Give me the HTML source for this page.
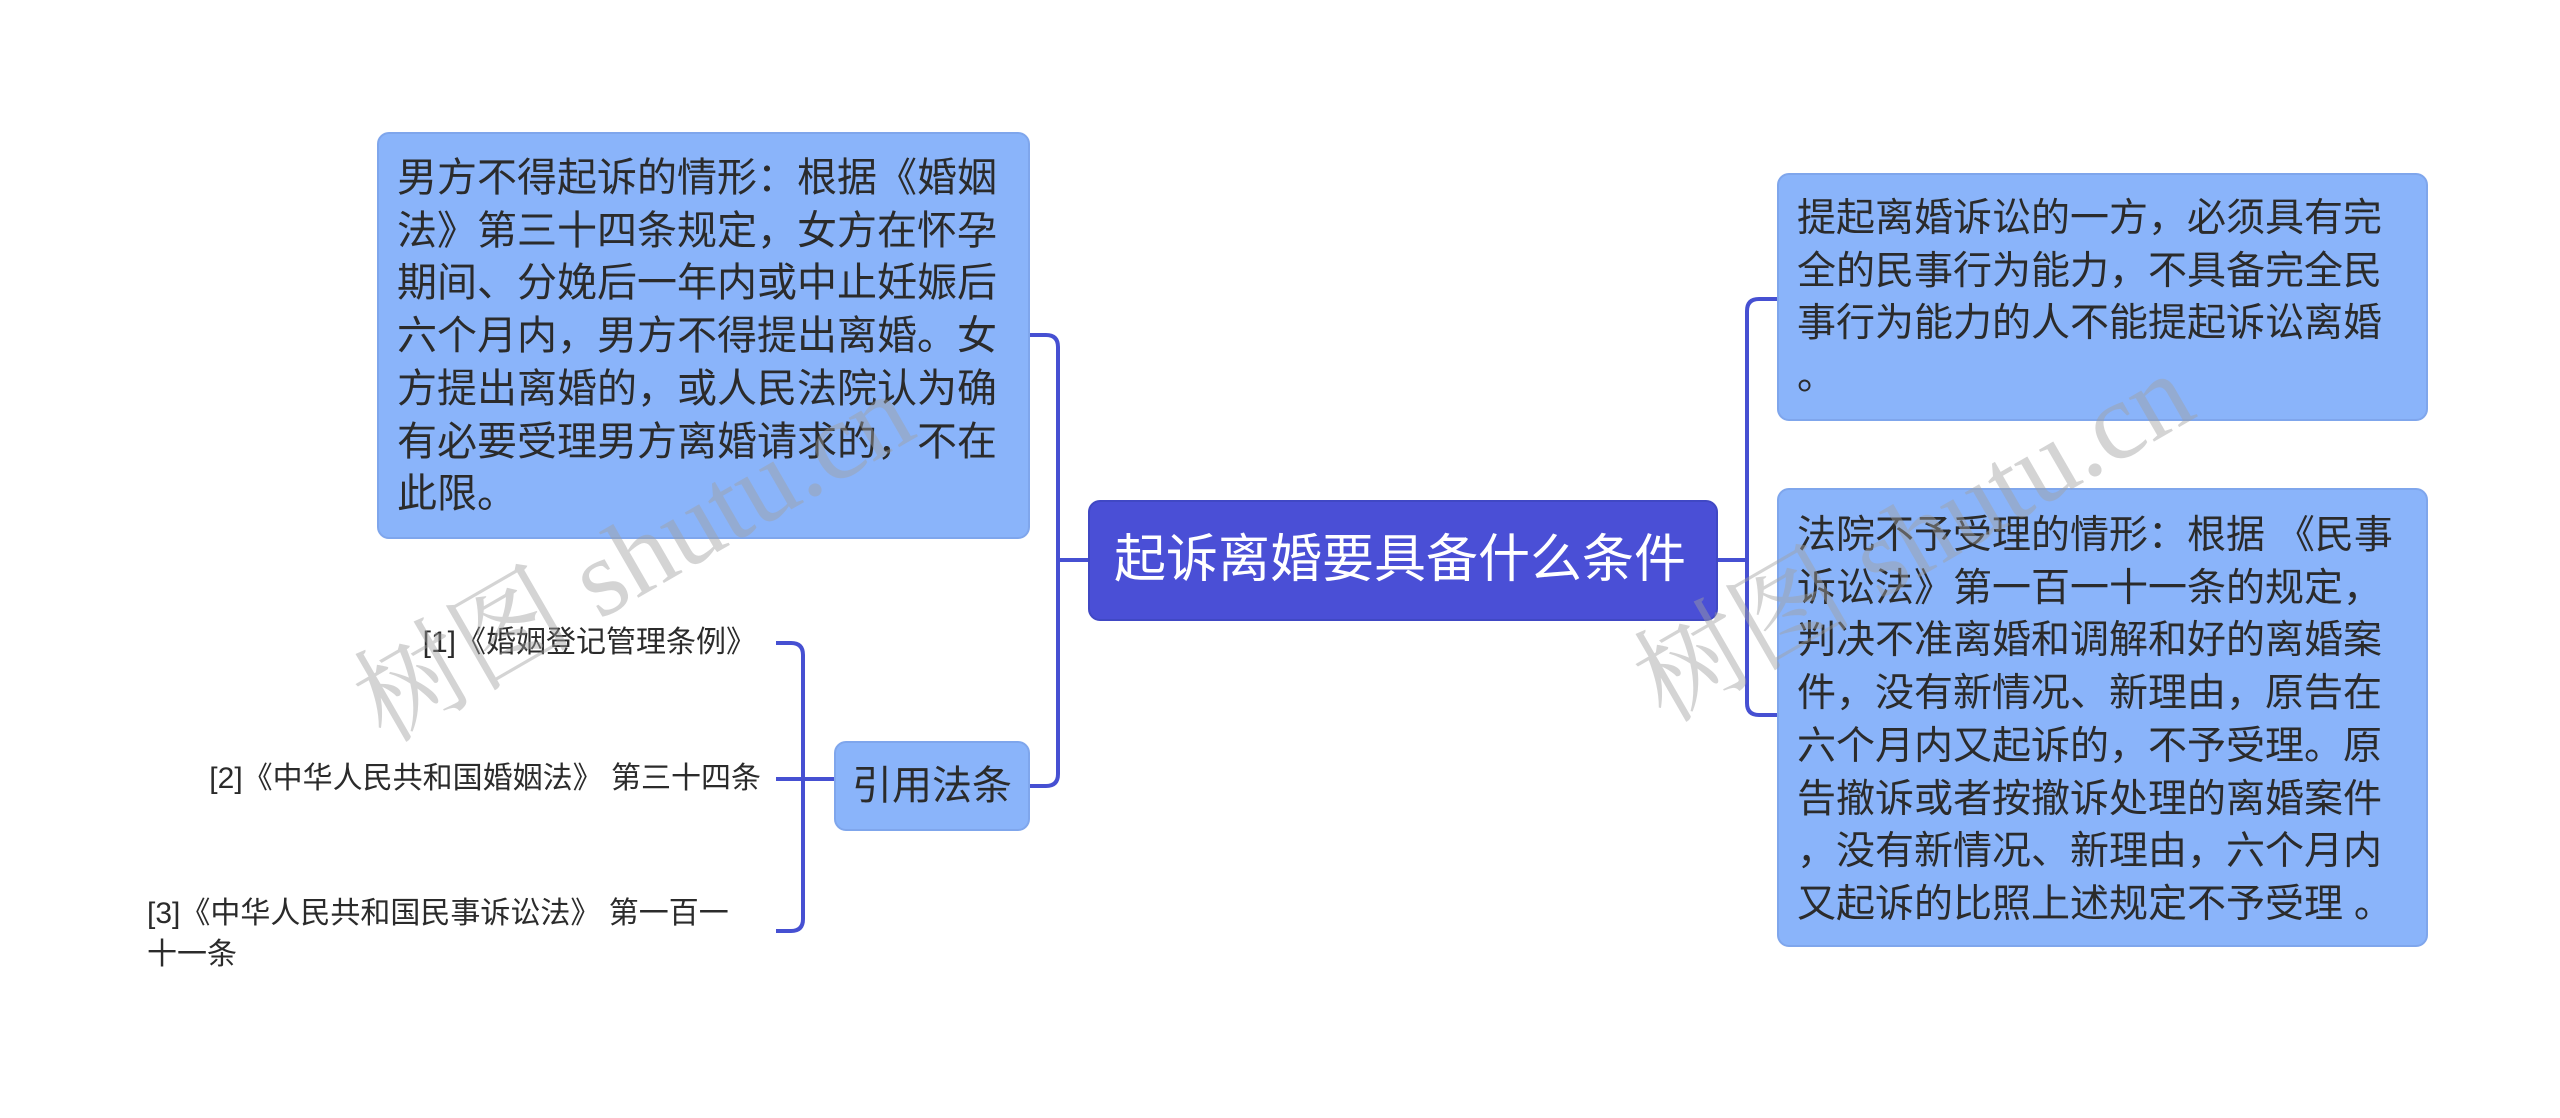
<!DOCTYPE html>
<html><head><meta charset="utf-8"><style>
body{margin:0;width:2560px;height:1118px;background:#fff;position:relative;overflow:hidden;font-family:"Liberation Sans","Noto Sans CJK SC",sans-serif;}
.box{position:absolute;background:#8ab4fa;border:2px solid #7fa6ec;border-radius:12px;box-sizing:border-box;color:#2b2b2b;font-size:40px;line-height:52.7px;padding:18px 0 0 18px;white-space:nowrap;}
.ref{position:absolute;font-size:30px;color:#2b2b2b;line-height:41px;white-space:nowrap;}
.wm{position:absolute;color:rgba(160,160,160,0.45);font-family:"Liberation Serif","Noto Serif CJK SC",serif;font-size:110px;transform:rotate(-30deg);white-space:nowrap;}
</style></head><body>
<svg width="2560" height="1118" style="position:absolute;left:0;top:0">
<g fill="none" stroke="#4650d2" stroke-width="4">
<path d="M1030 335 H1046 Q1058 335 1058 347 V774 Q1058 786 1046 786 H1030"/>
<path d="M1058 560 H1088"/>
<path d="M1718 560 H1747"/>
<path d="M1777 299 H1759 Q1747 299 1747 311 V703 Q1747 715 1759 715 H1777"/>
<path d="M776 643 H791 Q803 643 803 655 V919 Q803 931 791 931 H776"/>
<path d="M776 779 H834"/>
</g></svg>
<div class="box" style="left:377px;top:132px;width:653px;height:407px;">男方不得起诉的情形：根据《婚姻<br>法》第三十四条规定，女方在怀孕<br>期间、分娩后一年内或中止妊娠后<br>六个月内，男方不得提出离婚。女<br>方提出离婚的，或人民法院认为确<br>有必要受理男方离婚请求的，不在<br>此限。</div>
<div class="box" style="left:1088px;top:500px;width:630px;height:121px;background:#4a4fd6;border-color:#4048c4;color:#fff;font-size:52px;line-height:117px;padding:0 0 0 24px;">起诉离婚要具备什么条件</div>
<div class="box" style="left:1777px;top:173px;width:651px;height:248px;font-size:39px;">提起离婚诉讼的一方，必须具有完<br>全的民事行为能力，不具备完全民<br>事行为能力的人不能提起诉讼离婚<br>。</div>
<div class="box" style="left:1777px;top:488px;width:651px;height:459px;padding-top:20px;font-size:39px;">法院不予受理的情形：根据 《民事<br>诉讼法》第一百一十一条的规定，<br>判决不准离婚和调解和好的离婚案<br>件，没有新情况、新理由，原告在<br>六个月内又起诉的，不予受理。原<br>告撤诉或者按撤诉处理的离婚案件<br>，没有新情况、新理由，六个月内<br>又起诉的比照上述规定不予受理 。</div>
<div class="box" style="left:834px;top:741px;width:196px;height:90px;padding:0;text-align:center;line-height:86px;">引用法条</div>
<div class="ref" style="right:1804px;top:622px;">[1]《婚姻登记管理条例》</div>
<div class="ref" style="right:1799px;top:758px;">[2]《中华人民共和国婚姻法》 第三十四条</div>
<div class="ref" style="left:147px;top:893px;">[3]《中华人民共和国民事诉讼法》 第一百一<br>十一条</div>
<div class="wm" style="left:320px;top:470px;">树图 shutu.cn</div>
<div class="wm" style="left:1600px;top:450px;">树图 shutu.cn</div>
</body></html>
